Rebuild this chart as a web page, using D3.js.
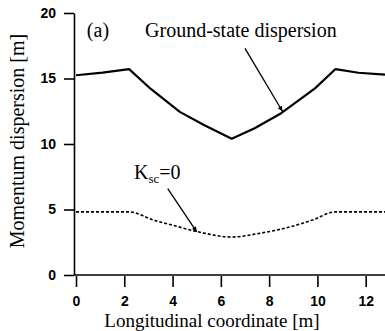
<!DOCTYPE html>
<html>
<head>
<meta charset="utf-8">
<script src="https://cdnjs.cloudflare.com/ajax/libs/d3/7.8.5/d3.min.js"></script>
<style>
  html, body { margin: 0; padding: 0; background: #fff; }
  svg { display: block; }
  .serif { font-family: "Liberation Serif", "Times New Roman", Times, "DejaVu Serif", serif; }
  .sans { font-family: "Liberation Sans", Arial, Helvetica, sans-serif; }
</style>
</head>
<body>
<div id="chartDiv"></div>
<script>
// ground-state dispersion (solid)
var groundX = [0, 1.1, 2.2, 3.1, 4.3, 5.3, 6.45, 7.4, 8.5, 9.9, 10.75, 11.7, 12.8];
var groundY = [15.25, 15.45, 15.72, 14.2, 12.45, 11.45, 10.4, 11.2, 12.35, 14.25, 15.72, 15.44, 15.3];

// Ksc = 0 (dashed)
var kscX = [0, 2.2, 3.2, 4.2, 5.1, 6.45, 7.6, 8.9, 9.8, 10.75, 12.8];
var kscY = [4.82, 4.82, 4.2, 3.7, 3.28, 2.9, 3.18, 3.69, 4.2, 4.82, 4.82];

var xTicks = [0, 2, 4, 6, 8, 10, 12];
var yTicks = [0, 5, 10, 15, 20];

var outerWidth = 385, outerHeight = 331;
var margin = {top: 13, right: 0, bottom: 56, left: 76};

var svg = d3.select("#chartDiv")
    .append("svg")
    .attr("width", outerWidth)
    .attr("height", outerHeight);

var x = d3.scaleLinear().domain([0, 12.8]).range([margin.left, outerWidth]);
var y = d3.scaleLinear().domain([0, 20]).range([outerHeight - margin.bottom, margin.top]);

// y axis
var yAxis = svg.append("g")
    .attr("transform", "translate(" + (margin.left - 2) + ",0)")
    .call(d3.axisLeft(y).tickValues(yTicks).tickSize(10).tickPadding(8).tickSizeOuter(0));

// x axis
var xAxis = svg.append("g")
    .attr("transform", "translate(0," + (y(0) + 1) + ")")
    .call(d3.axisBottom(x).tickValues(xTicks).tickSize(11).tickPadding(9).tickSizeOuter(0));

xAxis.select(".domain").attr("d", "M" + (margin.left - 2) + ",-1H" + outerWidth);

[xAxis, yAxis].forEach(function (ax) {
    ax.selectAll("path, line").attr("stroke", "#000").attr("stroke-width", 1.6);
    ax.selectAll("text")
        .attr("class", "sans")
        .attr("fill", "#000")
        .attr("font-family", null)
        .attr("font-size", null)
        .style("font-weight", "bold")
        .style("font-size", "14px");
});

// axis titles
svg.append("text")
    .attr("class", "serif")
    .attr("x", 212).attr("y", 327)
    .attr("text-anchor", "middle")
    .style("font-size", "19px")
    .text("Longitudinal coordinate [m]");

svg.append("text")
    .attr("class", "serif")
    .attr("transform", "translate(24,141) rotate(-90)")
    .attr("text-anchor", "middle")
    .style("font-size", "20px")
    .text("Momentum dispersion [m]");

// curves
var groundLine = d3.line()
    .x(function (d, i) { return x(groundX[i]); })
    .y(function (d) { return y(d); });

svg.append("path")
    .datum(groundY)
    .attr("d", groundLine)
    .attr("fill", "none")
    .attr("stroke", "#000")
    .attr("stroke-width", 2.2)
    .attr("stroke-linejoin", "round");

var kscLine = d3.line()
    .curve(d3.curveMonotoneX)
    .x(function (d, i) { return x(kscX[i]); })
    .y(function (d) { return y(d); });

svg.append("path")
    .datum(kscY)
    .attr("d", kscLine)
    .attr("fill", "none")
    .attr("stroke", "#000")
    .attr("stroke-width", 1.6)
    .attr("stroke-dasharray", "3,2");

// arrows
svg.append("defs").append("marker")
    .attr("id", "head")
    .attr("viewBox", "0 0 10 10")
    .attr("refX", 10).attr("refY", 5)
    .attr("markerWidth", 7).attr("markerHeight", 5)
    .attr("markerUnits", "userSpaceOnUse")
    .attr("orient", "auto")
    .append("path")
    .attr("d", "M0,0L10,5L0,10Z")
    .attr("fill", "#000");

var arrows = [
    {x1: 7.0, y1: 17.3, x2: 8.55, y2: 12.5},
    {x1: 3.8, y1: 6.6, x2: 5.0, y2: 3.3}
];

svg.selectAll(".arrow")
    .data(arrows)
    .enter()
    .append("line")
    .attr("class", "arrow")
    .attr("x1", d => x(d.x1)).attr("y1", d => y(d.y1))
    .attr("x2", d => x(d.x2)).attr("y2", d => y(d.y2))
    .attr("stroke", "#000")
    .attr("stroke-width", 1.3)
    .attr("marker-end", "url(#head)");

// labels
svg.append("text")
    .attr("class", "serif")
    .attr("x", x(0.45)).attr("y", y(18.2))
    .style("font-size", "20px")
    .text("(a)");

svg.append("text")
    .attr("class", "serif")
    .attr("x", x(2.86)).attr("y", y(18.2))
    .style("font-size", "20px")
    .text("Ground-state dispersion");

var ksc = svg.append("text")
    .attr("class", "serif")
    .attr("x", x(2.4)).attr("y", y(7.33))
    .style("font-size", "20px");
ksc.append("tspan").text("K");
ksc.append("tspan").attr("dy", 4).style("font-size", "13px").text("sc");
ksc.append("tspan").attr("dy", -4).text("=0");
</script>
</body>
</html>
